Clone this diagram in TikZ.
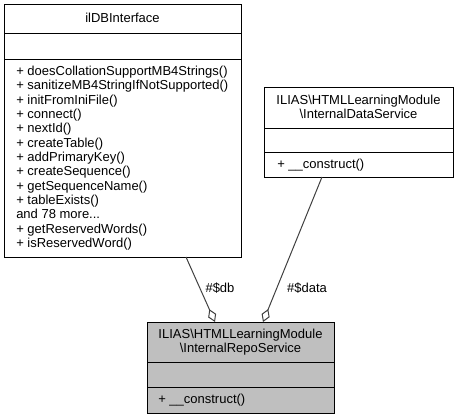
\documentclass[tikz,border=0pt]{standalone}
\usepackage{fontspec}
\setmainfont{Liberation Sans}
\usetikzlibrary{arrows.meta}
\definecolor{edgegray}{HTML}{404040}
\definecolor{fillgray}{HTML}{BFBFBF}
\newcommand\mydots{...}
\begin{document}
\begin{tikzpicture}[x=0.75pt,y=-0.75pt,
  font=\fontsize{9.75}{11}\selectfont,
  umlbox/.style={draw=black, line width=0.75pt, inner sep=0pt, outer sep=0pt, anchor=north west},
  sep/.style={draw=black, line width=0.75pt},
  txt/.style={inner sep=0pt, anchor=base west},
  ttl/.style={inner sep=0pt, anchor=base},
  aggr/.style={draw=edgegray, line width=0.75pt, -{Diamond[open, length=10.5pt, width=6.5pt, line width=0.75pt]}},
  lbl/.style={inner sep=0pt, anchor=base, text=black}]
\useasboundingbox (0,0) rectangle (458,419);

% ilDBInterface
\node[umlbox, minimum width=177.75pt, minimum height=189.75pt] (ildb) at (4,4) {};
\draw[sep] (4,33) -- (241,33);
\draw[sep] (4,59) -- (241,59);
\node[ttl] (ildbT) at (122.5,22.5) {ilDBInterface};
\foreach \t [count=\i from 0] in {%
  + doesCollationSupportMB4Strings(),
  + sanitizeMB4StringIfNotSupported(),
  + initFromIniFile(),
  + connect(),
  + nextId(),
  + createTable(),
  + addPrimaryKey(),
  + createSequence(),
  + getSequenceName(),
  + tableExists(),
  and 78 more\mydots,
  + getReservedWords(),
  + isReservedWord()}
  \node[txt] (ildbM\i) at (16,{75.5+14.33*\i}) {\t};

% InternalDataService
\node[umlbox, minimum width=141.75pt, minimum height=67.5pt] (data) at (264,87) {};
\draw[sep] (264,128) -- (453,128);
\draw[sep] (264,152) -- (453,152);
\node[ttl] (dataT1) at (358.5,104.5) {ILIAS\textbackslash HTMLLearningModule};
\node[ttl] (dataT2) at (358.5,118.5) {\textbackslash InternalDataService};
\node[txt] (dataM) at (277,168.5) {+ \_\_construct()};

% InternalRepoService
\node[umlbox, fill=fillgray, minimum width=140.25pt, minimum height=68.25pt] (repo) at (147,322) {};
\draw[sep] (147,362) -- (334,362);
\draw[sep] (147,387) -- (334,387);
\node[ttl] (repoT1) at (240.5,338.5) {ILIAS\textbackslash HTMLLearningModule};
\node[ttl] (repoT2) at (240.5,352.5) {\textbackslash InternalRepoService};
\node[txt] (repoM) at (158,403.5) {+ \_\_construct()};

% connectors
\coordinate (dbs) at (186,257);
\coordinate (dbe) at (215,322);
\coordinate (das) at (322,177);
\coordinate (dae) at (263,322);
\draw[aggr] (dbs) -- (dbe);
\draw[aggr] (das) -- (dae);
\node[lbl] (dbL) at (220,292.5) {\#\$db};
\node[lbl] (daL) at (307,292.5) {\#\$data};
\end{tikzpicture}
\end{document}
